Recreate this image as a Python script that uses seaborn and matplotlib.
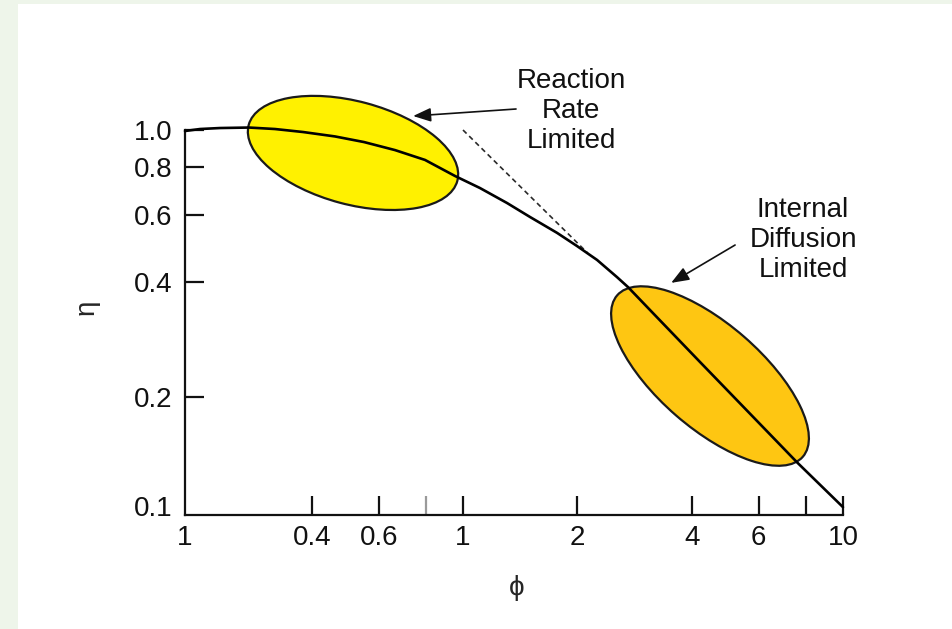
import numpy as np
import pandas as pd
import matplotlib
matplotlib.use("Agg")
import matplotlib.pyplot as plt
import matplotlib.transforms as mtransforms
from matplotlib.patches import Ellipse, Rectangle
import seaborn as sns

# ---- data ----
phi_curve = [0.1855, 0.2032, 0.2293, 0.2734, 0.3200, 0.3793, 0.4604, 0.5488, 0.6624,
             0.7943, 0.9527, 1.108, 1.306, 1.501, 1.768, 1.995, 2.253, 2.543, 2.718,
             3.105, 4.205, 6.047, 7.566, 10.0]
eta_curve = [0.994, 1.006, 1.012, 1.015, 1.006, 0.988, 0.962, 0.930, 0.886,
             0.835, 0.758, 0.705, 0.644, 0.592, 0.538, 0.497, 0.457, 0.412, 0.388,
             0.338, 0.247, 0.170, 0.135, 0.103]

phi_asym = [1.0, 2.13]
eta_asym = [1.0, 0.476]

x_ticks = [0.1855, 0.4, 0.6, 0.8, 1, 2, 4, 6, 8, 10]
x_labels = ["1", "0.4", "0.6", "", "1", "2", "4", "6", "", "10"]
y_ticks = [0.104, 0.2, 0.4, 0.6, 0.8, 1.0]
y_labels = ["0.1", "0.2", "0.4", "0.6", "0.8", "1.0"]

# regions (centre in data units, size in pixels, angle in degrees)
region_names = ["reaction", "diffusion"]
region_cx = [0.5135, 4.467]
region_cy = [0.871, 0.227]
region_w = [216, 246]
region_h = [103, 104]
region_angle = [-15, -41]
region_color = ["#FFF100", "#FEC612"]

labels_text = ["Reaction\nRate\nLimited", "Internal\nDiffusion\nLimited"]
labels_x = [1.925, 7.85]
labels_y = [1.121, 0.515]
arrow_from = [(1.379, 1.135), (5.20, 0.500)]
arrow_to = [(0.739, 1.088), (3.53, 0.398)]

# ---- figure ----
sns.set_theme(style="white")
plt.rcParams["font.family"] = ["Liberation Sans", "DejaVu Sans"]

DPI = 100
fig = plt.figure(figsize=(9.52, 6.29), dpi=DPI)
fig.patch.set_facecolor("#EEF5EA")
bg = Rectangle((18 / 952, 0), 1, 1 - 4 / 629, transform=fig.transFigure,
               facecolor="white", edgecolor="none", zorder=-10)
fig.add_artist(bg)

ax = fig.add_axes([0.1943, 0.1806, 0.6912, 0.6205])
ax.set_zorder(1)
ax.set_facecolor("none")
ax.set_xscale("log")
ax.set_yscale("log")

df = pd.DataFrame({"phi": phi_curve, "eta": eta_curve})
sns.lineplot(data=df, x="phi", y="eta", ax=ax, color="black", linewidth=1.9,
             sort=False, zorder=4, clip_on=False)
for ln in ax.get_lines():
    ln.set_solid_joinstyle("round")
ax.plot(phi_asym, eta_asym, color="#2a2a2a", linewidth=1.2, linestyle=(0, (3, 2.2)), zorder=3)

ax.set_xlim(0.1855, 10)
ax.set_ylim(0.098, 1.03)

# ellipses
for cx, cy, w, h, ang, col in zip(region_cx, region_cy, region_w, region_h, region_angle, region_color):
    tr = mtransforms.ScaledTranslation(cx, cy, ax.transData)
    e = Ellipse((0, 0), w, h, angle=ang, facecolor=col, edgecolor="#1a1a1a",
                linewidth=1.6, transform=mtransforms.IdentityTransform() + tr,
                zorder=2, clip_on=False)
    ax.add_patch(e)

# annotations
for t, tx, ty in zip(labels_text, labels_x, labels_y):
    ax.text(tx, ty, t, ha="center", va="center", multialignment="center",
            fontsize=20, linespacing=1.2, color="#111111", zorder=5, clip_on=False)
for (x0, y0), (x1, y1) in zip(arrow_from, arrow_to):
    ax.annotate("", xy=(x1, y1), xytext=(x0, y0), xycoords="data", textcoords="data",
                arrowprops=dict(arrowstyle="-|>,head_length=0.9,head_width=0.35",
                                color="#111111", linewidth=1.2, shrinkA=0, shrinkB=0),
                annotation_clip=False, zorder=5)

# axes styling
for s in ["top", "right"]:
    ax.spines[s].set_visible(False)
for s in ["left", "bottom"]:
    ax.spines[s].set_color("#111111")
    ax.spines[s].set_linewidth(1.6)
ax.spines["left"].set_bounds(0.098, 1.0)

ax.xaxis.set_minor_locator(matplotlib.ticker.NullLocator())
ax.yaxis.set_minor_locator(matplotlib.ticker.NullLocator())
ax.set_xticks(x_ticks)
ax.set_xticklabels(x_labels)
ax.set_yticks(y_ticks)
ax.set_yticklabels(y_labels)
ax.tick_params(axis="both", which="major", direction="in", length=14, width=1.6,
               color="#111111", labelsize=20, labelcolor="#111111",
               bottom=True, left=True, top=False, right=False)
ax.tick_params(axis="x", pad=7)
ax.tick_params(axis="y", pad=9)
xt = ax.xaxis.get_major_ticks()
xt[0].tick1line.set_visible(False)
xt[3].tick1line.set_markeredgecolor("#9a9a9a")
ax.yaxis.get_major_ticks()[0].tick1line.set_visible(False)

ax.set_xlabel("ϕ", fontsize=20)
ax.set_ylabel("η", fontsize=20)
ax.xaxis.set_label_coords(0.5046, -0.186)
ax.yaxis.set_label_coords(-0.149, 0.534)
ax.xaxis.label.set_verticalalignment("center")
ax.yaxis.label.set_verticalalignment("center")

fig.savefig("out.png", dpi=DPI, facecolor=fig.get_facecolor())
